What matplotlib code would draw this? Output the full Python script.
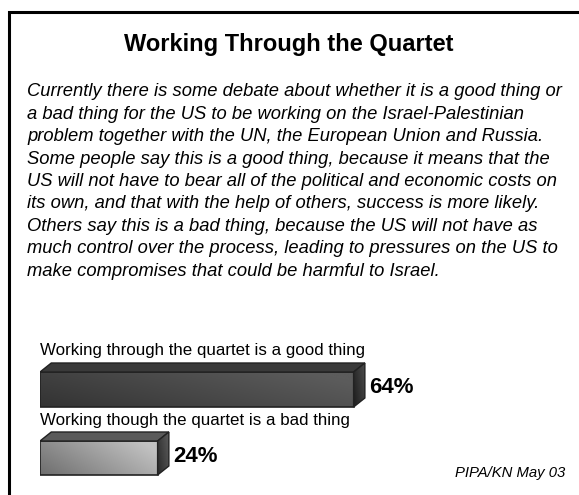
import numpy as np
import matplotlib
matplotlib.use("Agg")
import matplotlib.pyplot as plt
from matplotlib.patches import Polygon, Rectangle

plt.rcParams['font.family'] = ['Liberation Sans', 'DejaVu Sans']

title = "Working Through the Quartet"
question = [
    "Currently there is some debate about whether it is a good thing or",
    "a bad thing for the US to be working on the Israel-Palestinian",
    "problem together with the UN, the European Union and Russia.",
    "Some people say this is a good thing, because it means that the",
    "US will not have to bear all of the political and economic costs on",
    "its own, and that with the help of others, success is more likely.",
    "Others say this is a bad thing, because the US will not have as",
    "much control over the process, leading to pressures on the US to",
    "make compromises that could be harmful to Israel.",
]
answers = ["Working through the quartet is a good thing",
           "Working though the quartet is a bad thing"]
values = [64, 24]
source = "PIPA/KN May 03"

W, H = 579, 495
fig = plt.figure(figsize=(W / 100, H / 100), dpi=100)

# page axes in pixel units for the frame and text
page = fig.add_axes([0, 0, 1, 1])
page.set_xlim(0, W)
page.set_ylim(H, 0)
page.axis('off')
page.plot([9, 9, W], [H, 12, 12], color='black', lw=2.2, solid_joinstyle='miter')

page.text(289, 45, title, ha='center', va='center', fontsize=17,
          fontweight='bold')
for i, line in enumerate(question):
    page.text(27, 92 + i * 22.4, line, ha='left', va='center', fontsize=13.2,
              style='italic')
page.text(565, 473, source, ha='right', va='center', fontsize=10.7,
          style='italic')

# bar axes: x in percent, y in pixel rows
x0, x100 = 40, 530
ax = fig.add_axes([x0 / W, 0, (x100 - x0) / W, 1])
ax.set_xlim(0, 100)
ax.set_ylim(H, 0)
ax.axis('off')

bar_top = [372, 441]
bar_h = [35, 34]
label_y = [350, 421]
dx, dy = 2.3, 9          # depth: percent units, pixels
front_cols = [("#333333", "#5c5c5c"), ("#6e6e6e", "#c2c2c2")]
top_cols = ["#3a3a3a", "#5a5a5a"]
side_cols = [("#1e1e1e", "#4a4a4a"), ("#2a2a2a", "#5a5a5a")]


def gradient(c0, c1, n=64):
    a = np.array(matplotlib.colors.to_rgb(c0))
    b = np.array(matplotlib.colors.to_rgb(c1))
    xx, yy = np.meshgrid(np.linspace(0, 1, n), np.linspace(0, 1, n))
    t = np.clip(0.75 * xx + 0.35 * (1 - yy), 0, 1)[..., None]
    return a + (b - a) * t


for i, v in enumerate(values):
    y0, h = bar_top[i], bar_h[i]
    ax.text(0, label_y[i], answers[i], ha='left', va='center', fontsize=12.2)

    # front face
    rect = Rectangle((0, y0), v, h, facecolor='none', edgecolor='#222222', lw=1.2, zorder=3)
    ax.add_patch(rect)
    img = ax.imshow(gradient(*front_cols[i]), extent=(0, v, y0 + h, y0),
                    aspect='auto', zorder=2, interpolation='bilinear')
    img.set_clip_path(rect)

    # top face
    ax.add_patch(Polygon([(0, y0), (dx, y0 - dy), (v + dx, y0 - dy), (v, y0)],
                         closed=True, facecolor=top_cols[i], edgecolor='#222222',
                         lw=1.0, zorder=3))
    # side face
    side = Polygon([(v, y0), (v + dx, y0 - dy), (v + dx, y0 + h - dy), (v, y0 + h)],
                   closed=True, facecolor='none', edgecolor='#222222', lw=1.0, zorder=4)
    ax.add_patch(side)
    simg = ax.imshow(gradient(*side_cols[i]), extent=(v, v + dx, y0 + h, y0 - dy),
                     aspect='auto', zorder=3, interpolation='bilinear')
    simg.set_clip_path(side)

    ax.text(v + dx + 0.8, y0 + h / 2 - 2, f"{v}%", ha='left', va='center',
            fontsize=16, fontweight='bold')

ax.set_xlim(0, 100)
ax.set_ylim(H, 0)
fig.savefig("out.png", dpi=100)
